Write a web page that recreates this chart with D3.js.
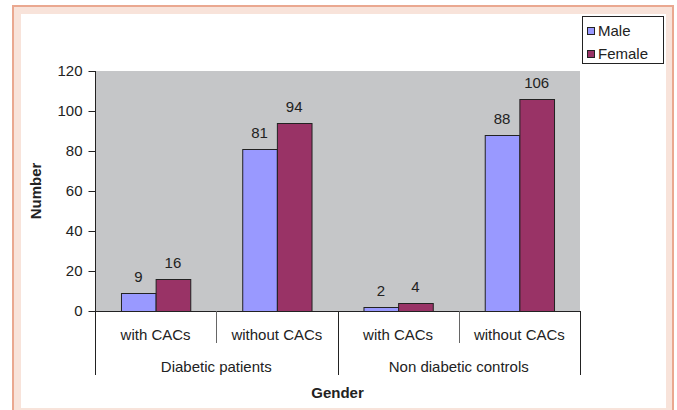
<!DOCTYPE html>
<html><head><meta charset="utf-8">
<script src="https://cdn.jsdelivr.net/npm/d3@7"></script>
<style>
html,body{margin:0;padding:0;background:#fff;}
svg{display:block;font-family:"Liberation Sans",Arial,sans-serif;}
</style></head>
<body>
<svg id="chart" width="677" height="410"></svg>
<script>
const groups = ["Diabetic patients", "Non diabetic controls"];
const subgroups = ["with CACs", "without CACs"];
const categories = ["Diabetic patients|with CACs", "Diabetic patients|without CACs", "Non diabetic controls|with CACs", "Non diabetic controls|without CACs"];
const series = ["Male", "Female"];
const maleValues = [9, 81, 2, 88];
const femaleValues = [16, 94, 4, 106];
const yTicks = [0, 20, 40, 60, 80, 100, 120];
const colors = {Male: "#9999ff", Female: "#993366"};

const svg = d3.select("#chart");
// frame
svg.append("rect").attr("x", 13).attr("y", 6).attr("width", 660).attr("height", 420)
  .attr("fill", "#f8e3da").attr("stroke", "#eaa890").attr("stroke-width", 2);
svg.append("rect").attr("x", 21).attr("y", 14).attr("width", 645).attr("height", 394).attr("fill", "#fff");

const pLeft = 95, pRight = 580, pTop = 71, pBottom = 311;
const x0 = d3.scaleBand().domain(categories).range([pLeft, pRight]).padding(0);
const bw = x0.bandwidth();
const x1 = d3.scaleBand().domain(series).range([bw * 0.75 / 3.5, bw * 2.75 / 3.5]).padding(0);
const y = d3.scaleLinear().domain([0, 120]).range([pBottom, pTop]);

svg.append("rect").attr("x", pLeft).attr("y", pTop).attr("width", pRight - pLeft).attr("height", pBottom - pTop).attr("fill", "#c5c6c8");

const data = categories.map((c, i) => ({cat: c, Male: maleValues[i], Female: femaleValues[i]}));
const g = svg.append("g");
data.forEach(d => {
  series.forEach(s => {
    g.append("rect")
      .attr("x", x0(d.cat) + x1(s) + 0.5)
      .attr("y", y(d[s]) + 0.5)
      .attr("width", x1.bandwidth())
      .attr("height", y(0) - y(d[s]))
      .attr("fill", colors[s]).attr("stroke", "#222").attr("stroke-width", 1);
    g.append("text")
      .attr("x", x0(d.cat) + x1(s) + x1.bandwidth() / 2)
      .attr("y", y(d[s]) - 11)
      .attr("text-anchor", "middle").attr("font-size", 15).attr("fill", "#222")
      .text(d[s]);
  });
});

// y axis
const yAxis = d3.axisLeft(y).tickValues(yTicks).tickSize(7).tickPadding(6);
const ya = svg.append("g").attr("transform", `translate(${pLeft + 0.5},0)`).call(yAxis);
ya.selectAll("text").attr("font-size", 15).attr("fill", "#222").attr("font-family", "Liberation Sans, Arial, sans-serif");
ya.selectAll("line,path").attr("stroke", "#222");
ya.select(".domain").attr("d", `M0,${pTop}V${pBottom}`);

// x axis baseline
svg.append("line").attr("x1", pLeft).attr("x2", pRight + 1).attr("y1", pBottom + 0.5).attr("y2", pBottom + 0.5).attr("stroke", "#222");

// category dividers
const boundaries = categories.map(c => x0(c)).concat([pRight]);
boundaries.forEach((bx, i) => {
  const outer = (i % 2 === 0);
  svg.append("line").attr("x1", Math.round(bx) + 0.5).attr("x2", Math.round(bx) + 0.5)
    .attr("y1", pBottom).attr("y2", outer ? 375 : 343)
    .attr("stroke", outer ? "#222" : "#666").attr("stroke-width", 1);
});
categories.forEach((c, i) => {
  svg.append("text").attr("x", x0(c) + bw / 2).attr("y", 340)
    .attr("text-anchor", "middle").attr("font-size", 15).attr("fill", "#222")
    .text(subgroups[i % 2]);
});
groups.forEach((gname, i) => {
  svg.append("text").attr("x", pLeft + bw * (2 * i + 1)).attr("y", 372)
    .attr("text-anchor", "middle").attr("font-size", 15).attr("fill", "#222")
    .text(gname);
});

// axis titles
svg.append("text").attr("x", (pLeft + pRight) / 2).attr("y", 398)
  .attr("text-anchor", "middle").attr("font-size", 15).attr("font-weight", "bold").attr("fill", "#222")
  .text("Gender");
svg.append("text").attr("transform", `translate(41,${(pTop + pBottom) / 2}) rotate(-90)`)
  .attr("text-anchor", "middle").attr("font-size", 15).attr("font-weight", "bold").attr("fill", "#222")
  .text("Number");

// legend
const lg = svg.append("g");
lg.append("rect").attr("x", 582.5).attr("y", 16.5).attr("width", 81).attr("height", 47)
  .attr("fill", "#fff").attr("stroke", "#222");
series.forEach((s, i) => {
  lg.append("rect").attr("x", 587.5).attr("y", 27.5 + i * 23).attr("width", 7).attr("height", 7)
    .attr("fill", colors[s]).attr("stroke", "#222");
  lg.append("text").attr("x", 598).attr("y", 36 + i * 23).attr("font-size", 15).attr("fill", "#222").text(s);
});
</script>
</body></html>
